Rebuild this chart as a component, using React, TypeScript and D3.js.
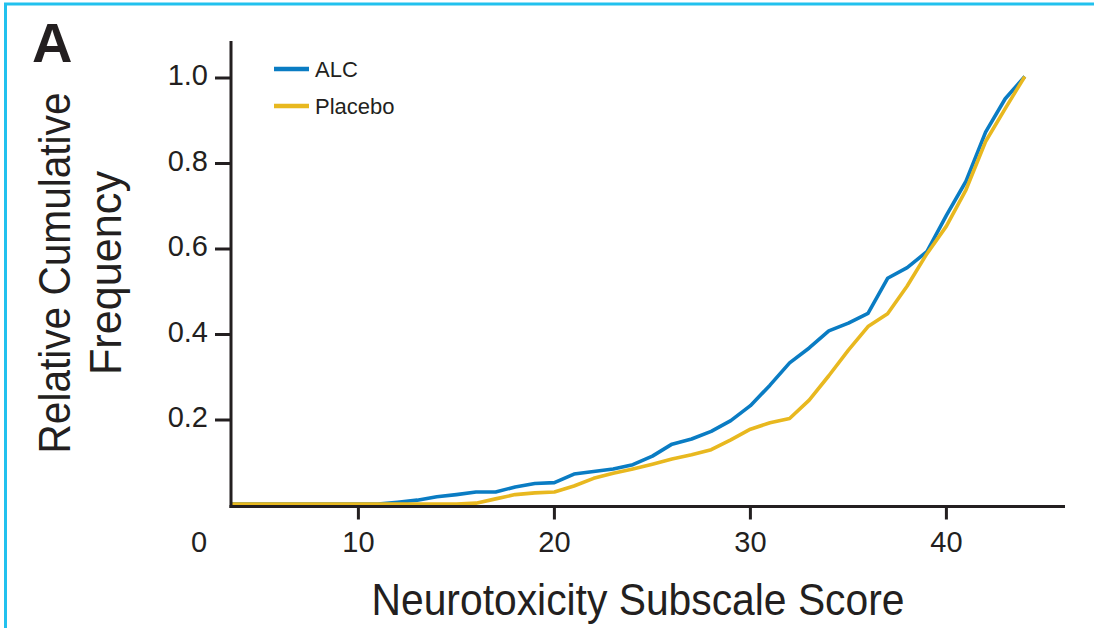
import React from "react";
import * as d3 from "d3";

// Neurotoxicity subscale score (x) and relative cumulative frequency per arm
const scores = [
  3.5, 4, 5, 6, 7, 8, 9, 10, 11, 12, 13, 14, 15, 16, 17, 18, 19, 20, 21, 22, 23, 24,
  25, 26, 27, 28, 29, 30, 31, 32, 33, 34, 35, 36, 37, 38, 39, 40, 41, 42, 43, 44,
];
const alcFreq = [
  0, 0, 0, 0, 0, 0, 0, 0, 0, 0.004, 0.009, 0.017, 0.022, 0.028, 0.028, 0.04, 0.048,
  0.05, 0.07, 0.076, 0.082, 0.092, 0.112, 0.14, 0.152, 0.17, 0.195, 0.23, 0.278, 0.33,
  0.365, 0.405, 0.423, 0.446, 0.528, 0.553, 0.59, 0.675, 0.755, 0.87, 0.948, 1.0,
];
const placeboFreq = [
  0, 0, 0, 0, 0, 0, 0, 0, 0, 0, 0, 0, 0, 0.002, 0.012, 0.022, 0.026, 0.028, 0.042,
  0.06, 0.072, 0.082, 0.093, 0.105, 0.115, 0.127, 0.15, 0.175, 0.19, 0.2, 0.243, 0.3,
  0.36, 0.415, 0.445, 0.51, 0.585, 0.65, 0.735, 0.848, 0.925, 1.0,
];
const xTicks = [10, 20, 30, 40];
const yTicks = [0.2, 0.4, 0.6, 0.8, 1.0];
const seriesNames = ["ALC", "Placebo"];
const seriesColors = ["#0a7cc3", "#e8b81f"];

const W = 1094;
const H = 628;
const AXIS = "#231f20";
const SANS = "'Liberation Sans', Arial, Helvetica, sans-serif";
const NARROW = "'Liberation Sans Narrow', 'Liberation Sans', Arial, sans-serif";

export default function App() {
  const x = d3.scaleLinear().domain([3.5, 46]).range([231, 1064]);
  const y = d3.scaleLinear().domain([0, 1]).range([505.5, 78]);

  const line = d3
    .line<number>()
    .x((_, i) => x(scores[i]))
    .y((d) => y(d))
    .curve(d3.curveLinear);

  const series = [alcFreq, placeboFreq];
  const x0 = x.range()[0];
  const axisY = y(0) + 1;

  return (
    <svg
      width={W}
      height={H}
      viewBox={`0 0 ${W} ${H}`}
      style={{ position: "absolute", left: 0, top: 0, background: "#fff" }}
    >
      {/* panel frame */}
      <path d={`M5.5,${H} V4 H${W}`} fill="none" stroke="#22c1ee" strokeWidth={3} />

      {/* panel letter */}
      <text x={32} y={62} fontFamily={SANS} fontWeight="bold" fontSize={56} fill={AXIS}>
        A
      </text>

      {/* data lines */}
      <g transform="translate(0,-1.5)">
        {series.map((vals, i) => (
          <path
            key={seriesNames[i]}
            d={line(vals) || ""}
            fill="none"
            stroke={seriesColors[i]}
            strokeWidth={3.6}
            strokeLinejoin="round"
          />
        ))}
      </g>

      {/* y axis */}
      <line x1={x0} x2={x0} y1={41} y2={axisY + 1.5} stroke={AXIS} strokeWidth={3} />
      {yTicks.map((t) => (
        <g key={t}>
          <line x1={215} x2={x0} y1={y(t)} y2={y(t)} stroke={AXIS} strokeWidth={3} />
          <text
            x={208}
            y={y(t) + 7}
            textAnchor="end"
            fontFamily={SANS}
            fontSize={29}
            fill={AXIS}
          >
            {t.toFixed(1)}
          </text>
        </g>
      ))}

      {/* x axis */}
      <line x1={x0 - 1.5} x2={1065} y1={axisY} y2={axisY} stroke={AXIS} strokeWidth={3} />
      {xTicks.map((t) => (
        <g key={t}>
          <line x1={x(t)} x2={x(t)} y1={axisY} y2={axisY + 13} stroke={AXIS} strokeWidth={3} />
          <text
            x={x(t)}
            y={552}
            textAnchor="middle"
            fontFamily={SANS}
            fontSize={29}
            fill={AXIS}
          >
            {t}
          </text>
        </g>
      ))}
      <text x={199} y={552} textAnchor="middle" fontFamily={SANS} fontSize={29} fill={AXIS}>
        0
      </text>

      {/* legend */}
      {seriesNames.map((name, i) => (
        <g key={name} transform={`translate(274,${69 + i * 37})`}>
          <line x1={0} x2={35} y1={0} y2={0} stroke={seriesColors[i]} strokeWidth={4.5} />
          <text x={41} y={8} fontFamily={SANS} fontSize={22} fill={AXIS}>
            {name}
          </text>
        </g>
      ))}

      {/* axis titles */}
      <text
        x={638}
        y={615}
        textAnchor="middle"
        fontFamily={NARROW}
        fontSize={44}
        fill={AXIS}
        textLength={533}
        lengthAdjust="spacingAndGlyphs"
      >
        Neurotoxicity Subscale Score
      </text>
      <g transform="translate(0,273) rotate(-90)">
        <text
          x={0}
          y={70}
          textAnchor="middle"
          fontFamily={NARROW}
          fontSize={44}
          fill={AXIS}
          textLength={361}
          lengthAdjust="spacingAndGlyphs"
        >
          Relative Cumulative
        </text>
        <text
          x={0}
          y={121}
          textAnchor="middle"
          fontFamily={NARROW}
          fontSize={44}
          fill={AXIS}
          textLength={204}
          lengthAdjust="spacingAndGlyphs"
        >
          Frequency
        </text>
      </g>
    </svg>
  );
}
